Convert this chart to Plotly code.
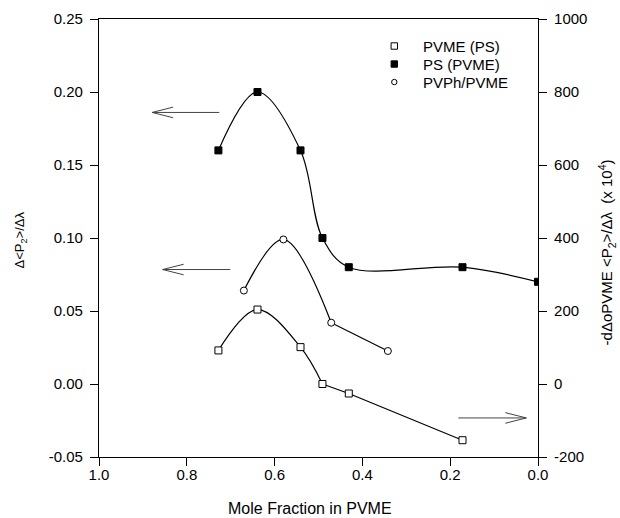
import plotly.graph_objects as go

# ---- data ----
ps_x = [0.728, 0.639, 0.541, 0.491, 0.431, 0.172, 0.0]
ps_y = [0.160, 0.200, 0.160, 0.100, 0.080, 0.080, 0.070]          # left axis

pvph_x = [0.670, 0.580, 0.471, 0.342]
pvph_y = [0.064, 0.099, 0.042, 0.0226]                           # left axis

pvme_x = [0.728, 0.639, 0.541, 0.491, 0.431, 0.172]
pvme_y = [92, 204, 101, 0, -26, -154]                             # right axis

x_ticks = [0.0, 0.2, 0.4, 0.6, 0.8, 1.0]
x_ticktext = ["0.0", "0.2", "0.4", "0.6", "0.8", "1.0"]
y_ticks = [-0.05, 0.00, 0.05, 0.10, 0.15, 0.20, 0.25]
y_ticktext = ["-0.05", "0.00", "0.05", "0.10", "0.15", "0.20", "0.25"]
y2_ticks = [-200, 0, 200, 400, 600, 800, 1000]
y2_ticktext = ["-200", "0", "200", "400", "600", "800", "1000"]

legend_labels = ["PVME (PS)", "PS (PVME)", "PVPh/PVME"]
legend_symbols = ["open_square", "filled_square", "open_circle"]

# arrows (tail x, tip x, y, axis)
arrow_tail = [0.726, 0.701, 0.1815]
arrow_tip = [0.879, 0.855, 0.0266]
arrow_y = [0.186, 0.0784, -93]
arrow_axis = ["y", "y", "y2"]

FONT = "Liberation Sans, Arial, sans-serif"
L, R, T, B = 98.7, 82.3, 19, 61.3
W, H = 620, 518
pw = W - L - R
ph = H - T - B


def px_x(px):
    return (px - L) / pw


def px_y(py):
    return (H - B - py) / ph


fig = go.Figure()

line_style = dict(color="black", width=1.2)

# PS (PVME): spline through all points
fig.add_trace(go.Scatter(x=ps_x, y=ps_y, mode="lines", line=dict(shape="spline", **line_style),
                         showlegend=False, hoverinfo="skip"))
# PVPh/PVME: spline then straight
fig.add_trace(go.Scatter(x=pvph_x[:3], y=pvph_y[:3], mode="lines", line=dict(shape="spline", **line_style),
                         showlegend=False, hoverinfo="skip"))
fig.add_trace(go.Scatter(x=pvph_x[2:], y=pvph_y[2:], mode="lines", line=line_style,
                         showlegend=False, hoverinfo="skip"))
# PVME (PS): spline then straight (right axis)
fig.add_trace(go.Scatter(x=pvme_x[:4], y=pvme_y[:4], mode="lines", line=dict(shape="spline", **line_style),
                         showlegend=False, hoverinfo="skip", yaxis="y2"))
fig.add_trace(go.Scatter(x=pvme_x[3:], y=pvme_y[3:], mode="lines", line=line_style,
                         showlegend=False, hoverinfo="skip", yaxis="y2"))

# markers
fig.add_trace(go.Scatter(x=pvme_x, y=pvme_y, mode="markers", name=legend_labels[0], yaxis="y2",
                         showlegend=False,
                         marker=dict(symbol="square", size=7, color="white",
                                     line=dict(color="black", width=1))))
fig.add_trace(go.Scatter(x=ps_x, y=ps_y, mode="markers", name=legend_labels[1], showlegend=False,
                         marker=dict(symbol="square", size=7, color="black",
                                     line=dict(color="black", width=1))))
fig.add_trace(go.Scatter(x=pvph_x, y=pvph_y, mode="markers", name=legend_labels[2], showlegend=False,
                         marker=dict(symbol="circle", size=7, color="white",
                                     line=dict(color="black", width=1))))

# arrow shapes (open chevron heads)
y_per_px = {"y": 0.30 / ph, "y2": 1200.0 / ph}
x_per_px = 1.0 / pw
shapes = []
for tail, tip, yy, ax in zip(arrow_tail, arrow_tip, arrow_y, arrow_axis):
    direction = 1 if tip > tail else -1
    hx = 21 * x_per_px * direction
    hy = 5.3 * y_per_px[ax]
    path = (f"M {tail},{yy} L {tip},{yy} "
            f"M {tip - hx},{yy + hy} L {tip},{yy} L {tip - hx},{yy - hy}")
    shapes.append(dict(type="path", path=path, xref="x", yref=ax,
                       line=dict(color="#444444", width=1)))

annotations = [
    dict(text="Δ<P<sub>2</sub>>/Δλ", textangle=-90, xref="paper", yref="paper",
         x=px_x(20), y=px_y(240), xanchor="center", yanchor="middle",
         showarrow=False, font=dict(family=FONT, size=13, color="black")),
    dict(text="-dΔoPVME <P<sub>2</sub>>/Δλ  (x 10<sup>4</sup>)", textangle=-90, xref="paper", yref="paper",
         x=px_x(606), y=px_y(252), xanchor="center", yanchor="middle",
         showarrow=False, font=dict(family=FONT, size=15, color="black")),
    dict(text="Mole Fraction in PVME", xref="paper", yref="paper",
         x=px_x(310), y=px_y(508), xanchor="center", yanchor="middle",
         showarrow=False, font=dict(family=FONT, size=16, color="black")),
]

# manual legend (compact rows like the reference)
leg_sym_x, leg_text_x, leg_y0, leg_dy = 394, 421, 46, 18
for i, (lab, sym) in enumerate(zip(legend_labels, legend_symbols)):
    cy = leg_y0 + i * leg_dy
    fill = "black" if sym.startswith("filled") else "white"
    stype = "circle" if sym.endswith("circle") else "rect"
    half = 2.7 if stype == "circle" else 3.2
    shapes.append(dict(type=stype, xref="paper", yref="paper", xsizemode="pixel", ysizemode="pixel",
                       xanchor=px_x(leg_sym_x), yanchor=px_y(cy),
                       x0=-half, x1=half, y0=-half, y1=half,
                       fillcolor=fill, line=dict(color="black", width=1)))
    annotations.append(dict(text=lab, xref="paper", yref="paper", x=px_x(leg_text_x), y=px_y(cy),
                            xanchor="left", yanchor="middle", showarrow=False,
                            font=dict(family=FONT, size=15, color="black")))

axis_common = dict(showgrid=False, zeroline=False, showline=True, linecolor="black", linewidth=1.2,
                   ticks="outside", ticklen=8, tickwidth=1.2, tickcolor="black", automargin=False,
                   tickfont=dict(family=FONT, size=15, color="black"))

fig.update_layout(
    width=W, height=H,
    margin=dict(l=L, r=R, t=T, b=B),
    paper_bgcolor="white", plot_bgcolor="white",
    font=dict(family=FONT, color="black"),
    xaxis=dict(range=[1.0, 0.0], tickvals=x_ticks, ticktext=x_ticktext, ticklabelstandoff=-4,
               **axis_common),
    xaxis2=dict(overlaying="x", range=[1.0, 0.0], side="top", showticklabels=False, showgrid=False,
                zeroline=False, showline=True, linecolor="black", linewidth=1.2, ticks=""),
    yaxis=dict(range=[-0.05, 0.25], tickvals=y_ticks, ticktext=y_ticktext, ticklabelstandoff=4,
               **axis_common),
    yaxis2=dict(range=[-200, 1000], tickvals=y2_ticks, ticktext=y2_ticktext, overlaying="y", side="right",
                ticklabelstandoff=4, **axis_common),
    shapes=shapes,
    annotations=annotations,
    showlegend=False,
)

# dummy trace to show top border via xaxis2
fig.add_trace(go.Scatter(x=[None], y=[None], xaxis="x2", showlegend=False, hoverinfo="skip"))

fig.write_html("out.html", config={"displayModeBar": False},
               post_script="document.body.style.margin='0';")
